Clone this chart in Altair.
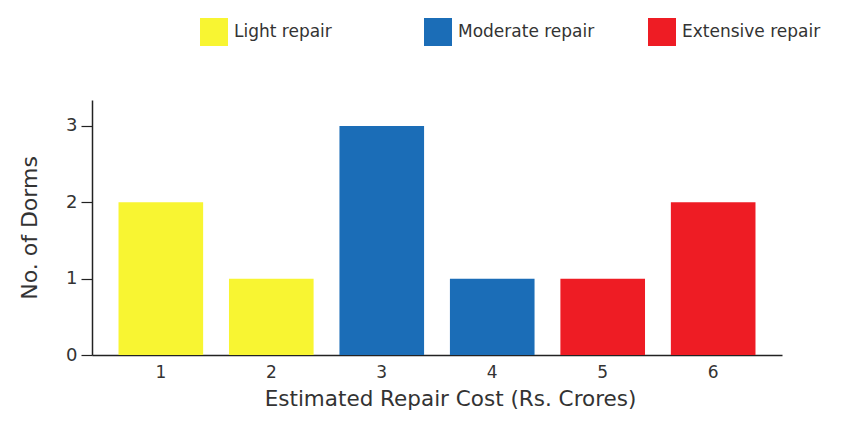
import altair as alt
import pandas as pd

costs = ["1", "2", "3", "4", "5", "6"]
dorms = [2, 1, 3, 1, 1, 2]
repair = ["Light repair", "Light repair", "Moderate repair", "Moderate repair",
          "Extensive repair", "Extensive repair"]
repair_order = ["Light repair", "Moderate repair", "Extensive repair"]
repair_colors = ["#F8F532", "#1B6DB7", "#EE1C24"]
y_ticks = [0, 1, 2, 3]

df = pd.DataFrame({"cost": costs, "dorms": dorms, "repair": repair})

FONT = "DejaVu Sans"

chart = alt.Chart(df).mark_bar().encode(
    x=alt.X("cost:N", sort=costs,
            scale=alt.Scale(paddingInner=0.234, paddingOuter=0.24),
            axis=alt.Axis(title="Estimated Repair Cost (Rs. Crores)", labelAngle=0,
                          ticks=False, labelPadding=9, titlePadding=8, titleX=358,
                          domainColor="#222", domainWidth=1.5,
                          labelFontSize=17, titleFontSize=21.5,
                          labelColor="#333", titleColor="#333",
                          labelFont=FONT, titleFont=FONT, titleFontWeight="normal")),
    y=alt.Y("dorms:Q", scale=alt.Scale(domain=[0, 3.34], nice=False),
            axis=alt.Axis(title="No. of Dorms", values=y_ticks, format="d",
                          grid=False, tickSize=11, tickColor="#222", tickWidth=1.2,
                          domainColor="#222", domainWidth=1.5,
                          labelFontSize=18, titleFontSize=22, labelPadding=4,
                          titlePadding=24,
                          labelColor="#333", titleColor="#333",
                          labelFont=FONT, titleFont=FONT, titleFontWeight="normal")),
    color=alt.Color("repair:N", sort=repair_order,
                    scale=alt.Scale(domain=repair_order, range=repair_colors),
                    legend=alt.Legend(title=None, orient="none", direction="horizontal",
                                      legendX=108, legendY=-82,
                                      symbolType="square", symbolSize=784,
                                      symbolStrokeWidth=0, symbolOpacity=1,
                                      labelFontSize=17, labelFont=FONT,
                                      labelColor="#333", labelOffset=6,
                                      gridAlign="all", columnPadding=51,
                                      labelLimit=300)),
).properties(
    width=690, height=255,
    background="white",
    autosize=alt.AutoSizeParams(type="none"),
    padding={"left": 84, "top": 92, "right": 76, "bottom": 65},
).configure_view(stroke="transparent", strokeWidth=0)

chart.save("out.html", embed_options={"renderer": "svg", "actions": False})
